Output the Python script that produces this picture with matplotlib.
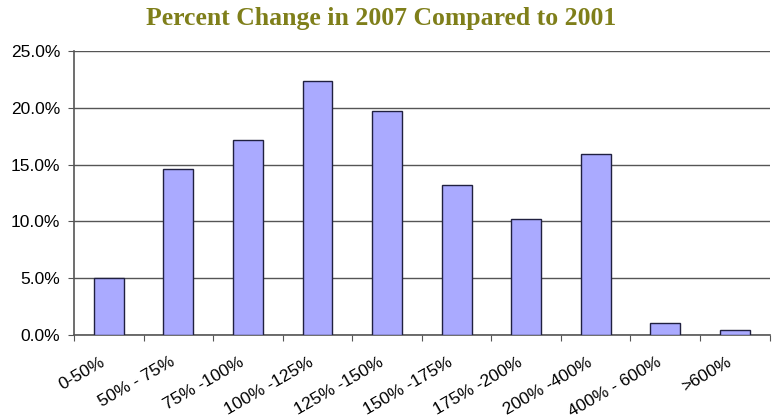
import matplotlib.pyplot as plt
import numpy as np
from matplotlib.ticker import FuncFormatter
from matplotlib.transforms import ScaledTranslation

categories = ['0-50%', '50% - 75%', '75% -100%', '100% -125%', '125% -150%',
              '150% -175%', '175% -200%', '200% -400%', '400% - 600%', '>600%']
values = [5.0, 14.6, 17.2, 22.4, 19.7, 13.2, 10.2, 15.9, 1.05, 0.45]

plt.rcParams['font.family'] = ['Liberation Sans', 'DejaVu Sans']

fig = plt.figure(figsize=(7.72, 4.19), dpi=100)
ax = fig.add_axes([0.0959, 0.2005, 0.901, 0.6775])

x = np.arange(len(categories))
ax.bar(x, values, width=0.43, color='#aaaaff', edgecolor='#202040', linewidth=1.0, zorder=3)

ax.set_xlim(-0.5, len(categories) - 0.5)
ax.set_ylim(0, 25)
ax.set_yticks(np.arange(0, 25.1, 5))
ax.yaxis.set_major_formatter(FuncFormatter(lambda v, p: '%.1f%%' % v))
ax.yaxis.grid(True, color='#555555', linewidth=1.0, zorder=0)

# ticks at category boundaries, labels at centres
ax.set_xticks(np.arange(len(categories) + 1) - 0.5)
ax.set_xticklabels([])
ax.set_xticks(x, minor=True)
ax.set_xticklabels(categories, minor=True, rotation=30, ha='right', va='top',
                   rotation_mode='anchor', fontsize=12.5)
ax.tick_params(axis='x', which='minor', length=0, pad=14)
ax.tick_params(axis='x', which='major', length=4, color='#555555', direction='out')
ax.tick_params(axis='y', length=4.5, color='#555555', labelsize=12.5, pad=5.5)

# shift the slanted labels a little to the left, like the original
shift = ScaledTranslation(-0.09, 0, fig.dpi_scale_trans)
for lab in ax.get_xticklabels(minor=True):
    lab.set_transform(lab.get_transform() + shift)

for s in ['top', 'right']:
    ax.spines[s].set_visible(False)
ax.spines['left'].set_color('#555555')
ax.spines['bottom'].set_color('#555555')
ax.spines['left'].set_linewidth(1.2)
ax.spines['bottom'].set_linewidth(1.2)

fig.text(0.494, 0.955, 'Percent Change in 2007 Compared to 2001', ha='center', va='center',
         fontsize=18.5, fontweight='bold', color='#7f7f1a', family=['Liberation Serif', 'DejaVu Serif'])

plt.savefig('out.png', dpi=100)
